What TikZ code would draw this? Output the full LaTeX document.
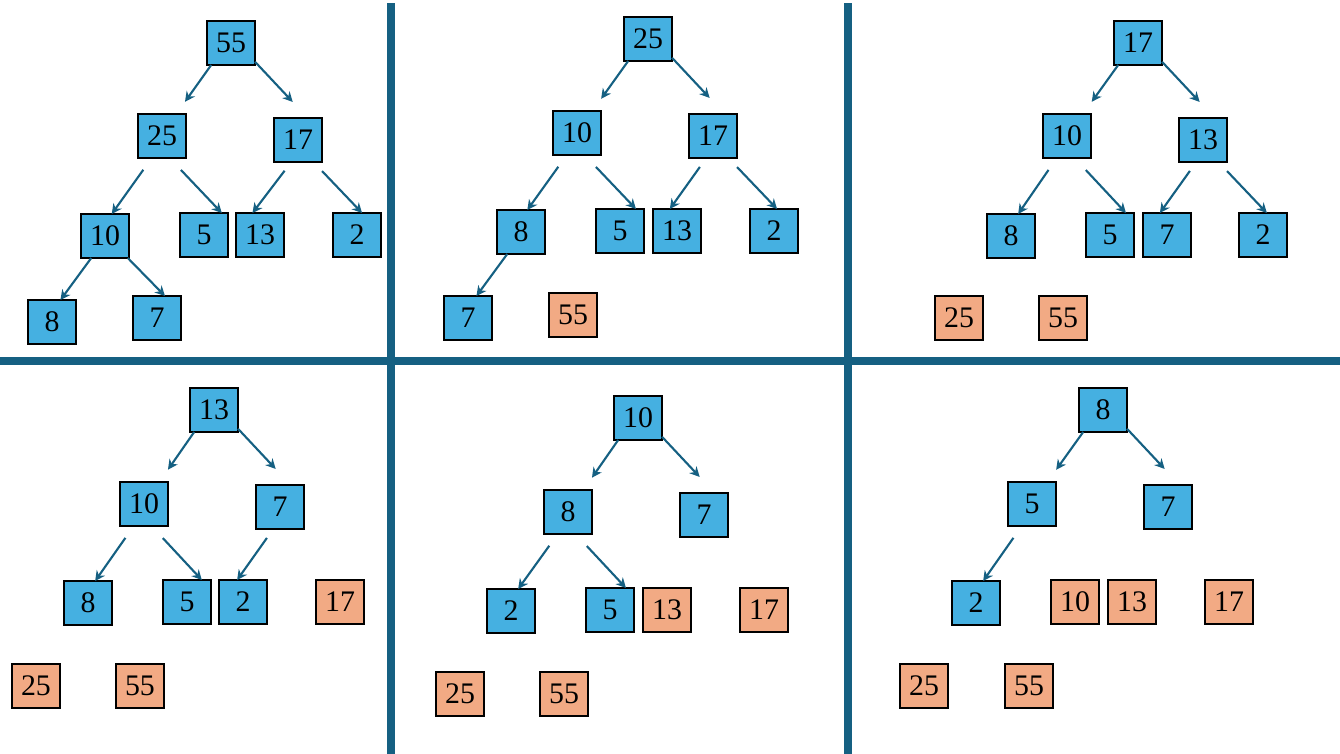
\documentclass[tikz,border=0pt]{standalone}
\usepackage{fontspec}
\setmainfont{Liberation Serif}
\usepackage{tikz}
\usetikzlibrary{arrows.meta}

\definecolor{heapblue}{HTML}{45B0E1}
\definecolor{sortorange}{HTML}{F2AA84}
\definecolor{rulecol}{HTML}{156082}

\begin{document}
\begin{tikzpicture}[
    x=0.02cm,y=-0.02cm,
    heapnode/.style={rectangle,draw=black,line width=0.6pt,fill=heapblue,minimum width=0.96cm,minimum height=0.88cm,inner sep=0pt,outer sep=0pt,font=\fontsize{17pt}{20pt}\selectfont},
    sorted/.style={heapnode,fill=sortorange},
    arr/.style={-{Stealth[length=2mm,width=2mm]},line width=1.2pt,draw=rulecol},
    rootl/.style={arr,shorten >=0.3cm},
    rootr/.style={arr,shorten >=0.44cm},
    innl/.style={arr,shorten <=0.29cm},
    innr/.style={arr,shorten <=0.33cm},
    nearl/.style={arr,shorten <=0.22cm},
    nearr/.style={arr,shorten <=0.25cm},
    divider/.style={line width=0.16cm,draw=rulecol}
]
\useasboundingbox (0,0) rectangle (1340,754);

% Dividers
\draw[divider] (391,3) -- (391,754);
\draw[divider] (848,3) -- (848,754);
\draw[divider] (0,361) -- (1340,361);

% Panel a: initial heap
\node[heapnode] (a55) at (231,43) {55};
\node[heapnode] (a25) at (162,136) {25};
\node[heapnode] (a17) at (298,140) {17};
\node[heapnode] (a10) at (105,236) {10};
\node[heapnode] (a5) at (204,235) {5};
\node[heapnode] (a13) at (260,235) {13};
\node[heapnode] (a2) at (357,235) {2};
\node[heapnode] (a8) at (52,322) {8};
\node[heapnode] (a7) at (157,318) {7};

\draw[rootl] (a55.-132) -- (a25.57);
\draw[rootr] (a55.-38) -- (a17.66);
\draw[innl] (a25.-115) -- (a10.73);
\draw[innr] (a25.-71) -- (a5.51);
\draw[nearl] (a17.-107) -- (a13.109);
\draw[nearr] (a17.-55) -- (a2.77);
\draw[arr] (a10.-122) -- (a8.69);
\draw[arr] (a10.-44) -- (a7.70);

% Panel b: 55 removed
\node[heapnode] (b25) at (648,39) {25};
\node[heapnode] (b10) at (577,133) {10};
\node[heapnode] (b17) at (713,136) {17};
\node[heapnode] (b8) at (521,232) {8};
\node[heapnode] (b5) at (620,231) {5};
\node[heapnode] (b13) at (677,231) {13};
\node[heapnode] (b2) at (774,231) {2};
\node[heapnode] (b7) at (468,318) {7};
\node[sorted] (b55) at (573,315) {55};

\draw[rootl] (b25.-132) -- (b10.55);
\draw[rootr] (b25.-38) -- (b17.62);
\draw[innl] (b10.-115) -- (b8.74);
\draw[innr] (b10.-71) -- (b5.54);
\draw[nearl] (b17.-107) -- (b13.108);
\draw[nearr] (b17.-55) -- (b2.82);
\draw[arr] (b8.-122) -- (b7.69);

% Panel c: 25 removed
\node[heapnode] (c17) at (1138,43) {17};
\node[heapnode] (c10) at (1067,136) {10};
\node[heapnode] (c13) at (1203,140) {13};
\node[heapnode] (c8) at (1011,236) {8};
\node[heapnode] (c5) at (1110,235) {5};
\node[heapnode] (c7) at (1167,235) {7};
\node[heapnode] (c2) at (1263,235) {2};
\node[sorted] (c25) at (959,318) {25};
\node[sorted] (c55) at (1063,318) {55};

\draw[rootl] (c17.-132) -- (c10.54);
\draw[rootr] (c17.-38) -- (c13.62);
\draw[innl] (c10.-115) -- (c8.72);
\draw[innr] (c10.-71) -- (c5.54);
\draw[nearl] (c13.-107) -- (c7.108);
\draw[nearr] (c13.-55) -- (c2.80);

% Panel d: 17 removed
\node[heapnode] (d13) at (214,410) {13};
\node[heapnode] (d10) at (144,504) {10};
\node[heapnode] (d7) at (280,507) {7};
\node[heapnode] (d8) at (88,603) {8};
\node[heapnode] (d5) at (187,602) {5};
\node[heapnode] (d2) at (243,602) {2};
\node[sorted] (d17) at (340,602) {17};
\node[sorted] (d25) at (36,686) {25};
\node[sorted] (d55) at (140,686) {55};

\draw[rootl] (d13.-132) -- (d10.55);
\draw[rootr] (d13.-38) -- (d7.64);
\draw[innl] (d10.-115) -- (d8.72);
\draw[innr] (d10.-71) -- (d5.56);
\draw[nearl] (d7.-107) -- (d2.105);

% Panel e: 13 removed
\node[heapnode] (e10) at (638,418) {10};
\node[heapnode] (e8) at (568,512) {8};
\node[heapnode] (e7) at (704,515) {7};
\node[heapnode] (e2) at (511,611) {2};
\node[heapnode] (e5) at (610,610) {5};
\node[sorted] (e13) at (667,610) {13};
\node[sorted] (e17) at (764,610) {17};
\node[sorted] (e25) at (460,694) {25};
\node[sorted] (e55) at (564,694) {55};

\draw[rootl] (e10.-132) -- (e8.55);
\draw[rootr] (e10.-38) -- (e7.64);
\draw[innl] (e8.-115) -- (e2.72);
\draw[innr] (e8.-71) -- (e5.54);

% Panel f: 10 removed
\node[heapnode] (f8) at (1103,410) {8};
\node[heapnode] (f5) at (1032,504) {5};
\node[heapnode] (f7) at (1168,507) {7};
\node[heapnode] (f2) at (976,603) {2};
\node[sorted] (f10) at (1075,602) {10};
\node[sorted] (f13) at (1132,602) {13};
\node[sorted] (f17) at (1229,602) {17};
\node[sorted] (f25) at (924,686) {25};
\node[sorted] (f55) at (1029,686) {55};

\draw[rootl] (f8.-132) -- (f5.55);
\draw[rootr] (f8.-38) -- (f7.62);
\draw[innl] (f5.-115) -- (f2.72);

\end{tikzpicture}
\end{document}
